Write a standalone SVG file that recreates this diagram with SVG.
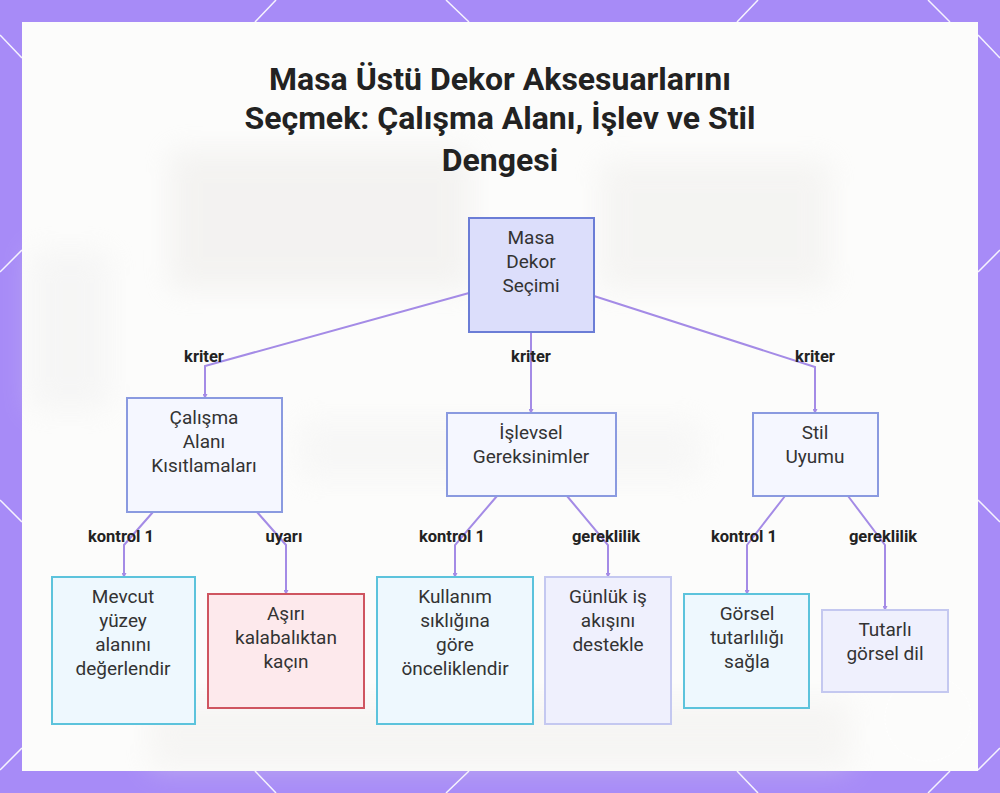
<svg xmlns="http://www.w3.org/2000/svg" width="1000" height="793" viewBox="0 0 1000 793">
<style>
.title{font-family:Roboto,"Liberation Sans",sans-serif;font-weight:bold;font-size:32px;fill:#222;text-anchor:middle}
.nt{font-family:Roboto,"Liberation Sans",sans-serif;font-size:19px;fill:#333;text-anchor:middle}
.lb{font-family:Roboto,"Liberation Sans",sans-serif;font-weight:bold;font-size:16.5px;fill:#222;text-anchor:middle}
.edge{fill:none;stroke:#a48be6;stroke-width:2}
.bl{stroke:#ffffff;stroke-width:1.5;opacity:0.9}
.cat{fill:#f5f7ff;stroke:#8a9ae0;stroke-width:2}
.cyan{fill:#eef8fe;stroke:#5cc3dc;stroke-width:2}
.red{fill:#fde9ec;stroke:#cf5560;stroke-width:2}
.lav{fill:#eff0fd;stroke:#c4c8f0;stroke-width:2}
</style>
<defs>
<marker id="arr" markerWidth="5" markerHeight="5" refX="4" refY="2.5" orient="auto" markerUnits="userSpaceOnUse">
<path d="M0,0 L5,2.5 L0,5 z" fill="#a48be6"/>
</marker>
<filter id="blur" x="-20%" y="-20%" width="140%" height="140%"><feGaussianBlur stdDeviation="14"/></filter>
</defs>
<rect x="0" y="0" width="1000" height="793" fill="#a78bf7"/>
<g id="border-lines">
<line class="bl" x1="276" y1="0" x2="255" y2="22"/>
<line class="bl" x1="446" y1="0" x2="469" y2="22"/>
<line class="bl" x1="758" y1="0" x2="737" y2="22"/>
<line class="bl" x1="928" y1="0" x2="950" y2="22"/>
<line class="bl" x1="255" y1="771" x2="276" y2="793"/>
<line class="bl" x1="469" y1="771" x2="446" y2="793"/>
<line class="bl" x1="737" y1="771" x2="758" y2="793"/>
<line class="bl" x1="950" y1="771" x2="928" y2="793"/>
<line class="bl" x1="0" y1="35" x2="22" y2="58"/>
<line class="bl" x1="0" y1="272" x2="22" y2="250"/>
<line class="bl" x1="0" y1="500" x2="22" y2="522"/>
<line class="bl" x1="0" y1="770" x2="22" y2="748"/>
<line class="bl" x1="978" y1="35" x2="1000" y2="58"/>
<line class="bl" x1="978" y1="272" x2="1000" y2="250"/>
<line class="bl" x1="978" y1="500" x2="1000" y2="522"/>
<line class="bl" x1="978" y1="770" x2="1000" y2="748"/>
</g>
<rect x="22" y="22" width="956" height="749" fill="#fcfcfb"/>
<g id="bg" filter="url(#blur)" opacity="0.35">
<rect x="170" y="150" width="300" height="140" fill="#e4e2df"/>
<rect x="600" y="160" width="230" height="130" fill="#e8e6e3"/>
<rect x="30" y="250" width="80" height="160" fill="#ebebeb"/>
<rect x="300" y="420" width="400" height="60" fill="#eeeeee"/>
<rect x="150" y="700" width="700" height="70" fill="#ebe9e6"/>
</g>
<circle cx="928" cy="718" r="43" fill="none" stroke="#ffffff" stroke-width="1" stroke-dasharray="2 2" opacity="0.9"/>
<g id="title">
<text class="title" x="500" y="90">Masa Üstü Dekor Aksesuarlarını</text>
<text class="title" x="500" y="129">Seçmek: Çalışma Alanı, İşlev ve Stil</text>
<text class="title" x="500" y="171">Dengesi</text>
</g>
<g id="connectors">
<path class="edge" d="M469,293 L205,366 L205,398" marker-end="url(#arr)"/>
<path class="edge" d="M531,332 L531,413" marker-end="url(#arr)"/>
<path class="edge" d="M594,296 L815,367 L815,413" marker-end="url(#arr)"/>
<path class="edge" d="M153,512 L124,545 L124,577" marker-end="url(#arr)"/>
<path class="edge" d="M257,512 L286,545 L286,594" marker-end="url(#arr)"/>
<path class="edge" d="M497,496 L455,545 L455,577" marker-end="url(#arr)"/>
<path class="edge" d="M567,496 L608,545 L608,577" marker-end="url(#arr)"/>
<path class="edge" d="M785,496 L747,545 L747,594" marker-end="url(#arr)"/>
<path class="edge" d="M848,496 L885,545 L885,610" marker-end="url(#arr)"/>
<text class="lb" x="204" y="362">kriter</text>
<text class="lb" x="531" y="362">kriter</text>
<text class="lb" x="815" y="362">kriter</text>
<text class="lb" x="121" y="542">kontrol 1</text>
<text class="lb" x="284" y="542">uyarı</text>
<text class="lb" x="452" y="542">kontrol 1</text>
<text class="lb" x="606" y="542">gereklilik</text>
<text class="lb" x="744" y="542">kontrol 1</text>
<text class="lb" x="883" y="542">gereklilik</text>
</g>
<g id="root">
<rect x="469" y="218" width="125" height="114" fill="#dcdefb" stroke="#6b7dd6" stroke-width="2"/>
<text class="nt" x="531" y="244">Masa</text>
<text class="nt" x="531" y="268">Dekor</text>
<text class="nt" x="531" y="292">Seçimi</text>
</g>
<g id="calisma">
<rect class="cat" x="127" y="398" width="155" height="114"/>
<text class="nt" x="204" y="424">Çalışma</text>
<text class="nt" x="204" y="448">Alanı</text>
<text class="nt" x="204" y="472">Kısıtlamaları</text>
</g>
<g id="islevsel">
<rect class="cat" x="447" y="413" width="169" height="83"/>
<text class="nt" x="531" y="439">İşlevsel</text>
<text class="nt" x="531" y="463">Gereksinimler</text>
</g>
<g id="stil">
<rect class="cat" x="753" y="413" width="125" height="83"/>
<text class="nt" x="815" y="439">Stil</text>
<text class="nt" x="815" y="463">Uyumu</text>
</g>
<g id="mevcut">
<rect class="cyan" x="52" y="577" width="143" height="147"/>
<text class="nt" x="123" y="603">Mevcut</text>
<text class="nt" x="123" y="627">yüzey</text>
<text class="nt" x="123" y="651">alanını</text>
<text class="nt" x="123" y="675">değerlendir</text>
</g>
<g id="asiri">
<rect class="red" x="208" y="594" width="156" height="114"/>
<text class="nt" x="286" y="620">Aşırı</text>
<text class="nt" x="286" y="644">kalabalıktan</text>
<text class="nt" x="286" y="668">kaçın</text>
</g>
<g id="kullanim">
<rect class="cyan" x="377" y="577" width="156" height="147"/>
<text class="nt" x="455" y="603">Kullanım</text>
<text class="nt" x="455" y="627">sıklığına</text>
<text class="nt" x="455" y="651">göre</text>
<text class="nt" x="455" y="675">önceliklendir</text>
</g>
<g id="gunluk">
<rect class="lav" x="545" y="577" width="126" height="147"/>
<text class="nt" x="608" y="603">Günlük iş</text>
<text class="nt" x="608" y="627">akışını</text>
<text class="nt" x="608" y="651">destekle</text>
</g>
<g id="gorsel">
<rect class="cyan" x="684" y="594" width="125" height="114"/>
<text class="nt" x="747" y="620">Görsel</text>
<text class="nt" x="747" y="644">tutarlılığı</text>
<text class="nt" x="747" y="668">sağla</text>
</g>
<g id="tutarli">
<rect class="lav" x="822" y="610" width="126" height="82"/>
<text class="nt" x="885" y="636">Tutarlı</text>
<text class="nt" x="885" y="660">görsel dil</text>
</g>
</svg>
